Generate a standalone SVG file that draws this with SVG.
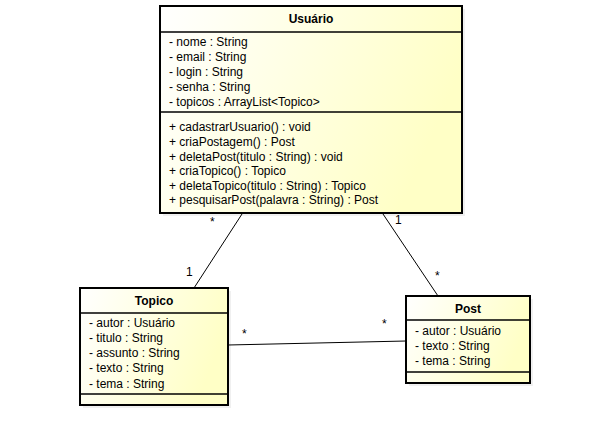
<svg xmlns="http://www.w3.org/2000/svg" width="606" height="422" viewBox="0 0 606 422">
<defs>
<linearGradient id="fill" x1="0" y1="0" x2="1" y2="0.3">
<stop offset="0" stop-color="#FFFFFF"/>
<stop offset="1" stop-color="#FFFFC6"/>
</linearGradient>
<style>
.box{fill:url(#fill);stroke:#000;stroke-width:2}
.shadow{fill:#000;opacity:0.06}
.div{stroke:#000;stroke-width:1.5}
text{font-family:"Liberation Sans",Arial,sans-serif;font-size:12px;fill:#000}
.title{font-weight:bold;text-anchor:middle}
.conn line{stroke:#000;stroke-width:1}
.mult{font-size:12px}
</style>
</defs>
<rect width="606" height="422" fill="#fff"/>
<g id="connectors" class="conn">
<line x1="242" y1="214" x2="194" y2="288"/>
<line x1="383" y1="214" x2="438" y2="296"/>
<line x1="228" y1="345" x2="406" y2="341"/>
<text class="mult" x="210" y="226">*</text>
<text class="mult" x="186" y="276">1</text>
<text class="mult" x="395" y="224">1</text>
<text class="mult" x="435" y="280">*</text>
<text class="mult" x="242" y="338">*</text>
<text class="mult" x="382" y="328">*</text>
</g>
<g id="usuario">
<rect class="shadow" x="163" y="9" width="302" height="207"/>
<rect class="box" x="160" y="6" width="302" height="207"/>
<line class="div" x1="160" y1="32" x2="462" y2="32"/>
<line class="div" x1="160" y1="112" x2="462" y2="112"/>
<text class="title" x="311" y="23">Usuário</text>
<text x="169" y="46">- nome : String</text>
<text x="169" y="61">- email : String</text>
<text x="169" y="76">- login : String</text>
<text x="169" y="91">- senha : String</text>
<text x="169" y="106">- topicos : ArrayList&lt;Topico&gt;</text>
<text x="169" y="131">+ cadastrarUsuario() : void</text>
<text x="169" y="146">+ criaPostagem() : Post</text>
<text x="169" y="161">+ deletaPost(titulo : String) : void</text>
<text x="169" y="175">+ criaTopico() : Topico</text>
<text x="169" y="190">+ deletaTopico(titulo : String) : Topico</text>
<text x="169" y="204">+ pesquisarPost(palavra : String) : Post</text>
</g>
<g id="topico">
<rect class="shadow" x="83" y="291" width="148" height="117"/>
<rect class="box" x="80" y="288" width="148" height="117"/>
<line class="div" x1="80" y1="313" x2="228" y2="313"/>
<line class="div" x1="80" y1="394" x2="228" y2="394"/>
<text class="title" x="154" y="305">Topico</text>
<text x="89" y="327">- autor : Usuário</text>
<text x="89" y="342">- titulo : String</text>
<text x="89" y="357">- assunto : String</text>
<text x="89" y="372">- texto : String</text>
<text x="89" y="388">- tema : String</text>
</g>
<g id="post">
<rect class="shadow" x="409" y="299" width="124" height="87"/>
<rect class="box" x="406" y="296" width="124" height="87"/>
<line class="div" x1="406" y1="320" x2="530" y2="320"/>
<line class="div" x1="406" y1="372" x2="530" y2="372"/>
<text class="title" x="468" y="313">Post</text>
<text x="415" y="335">- autor : Usuário</text>
<text x="415" y="350">- texto : String</text>
<text x="415" y="365">- tema : String</text>
</g>
</svg>
